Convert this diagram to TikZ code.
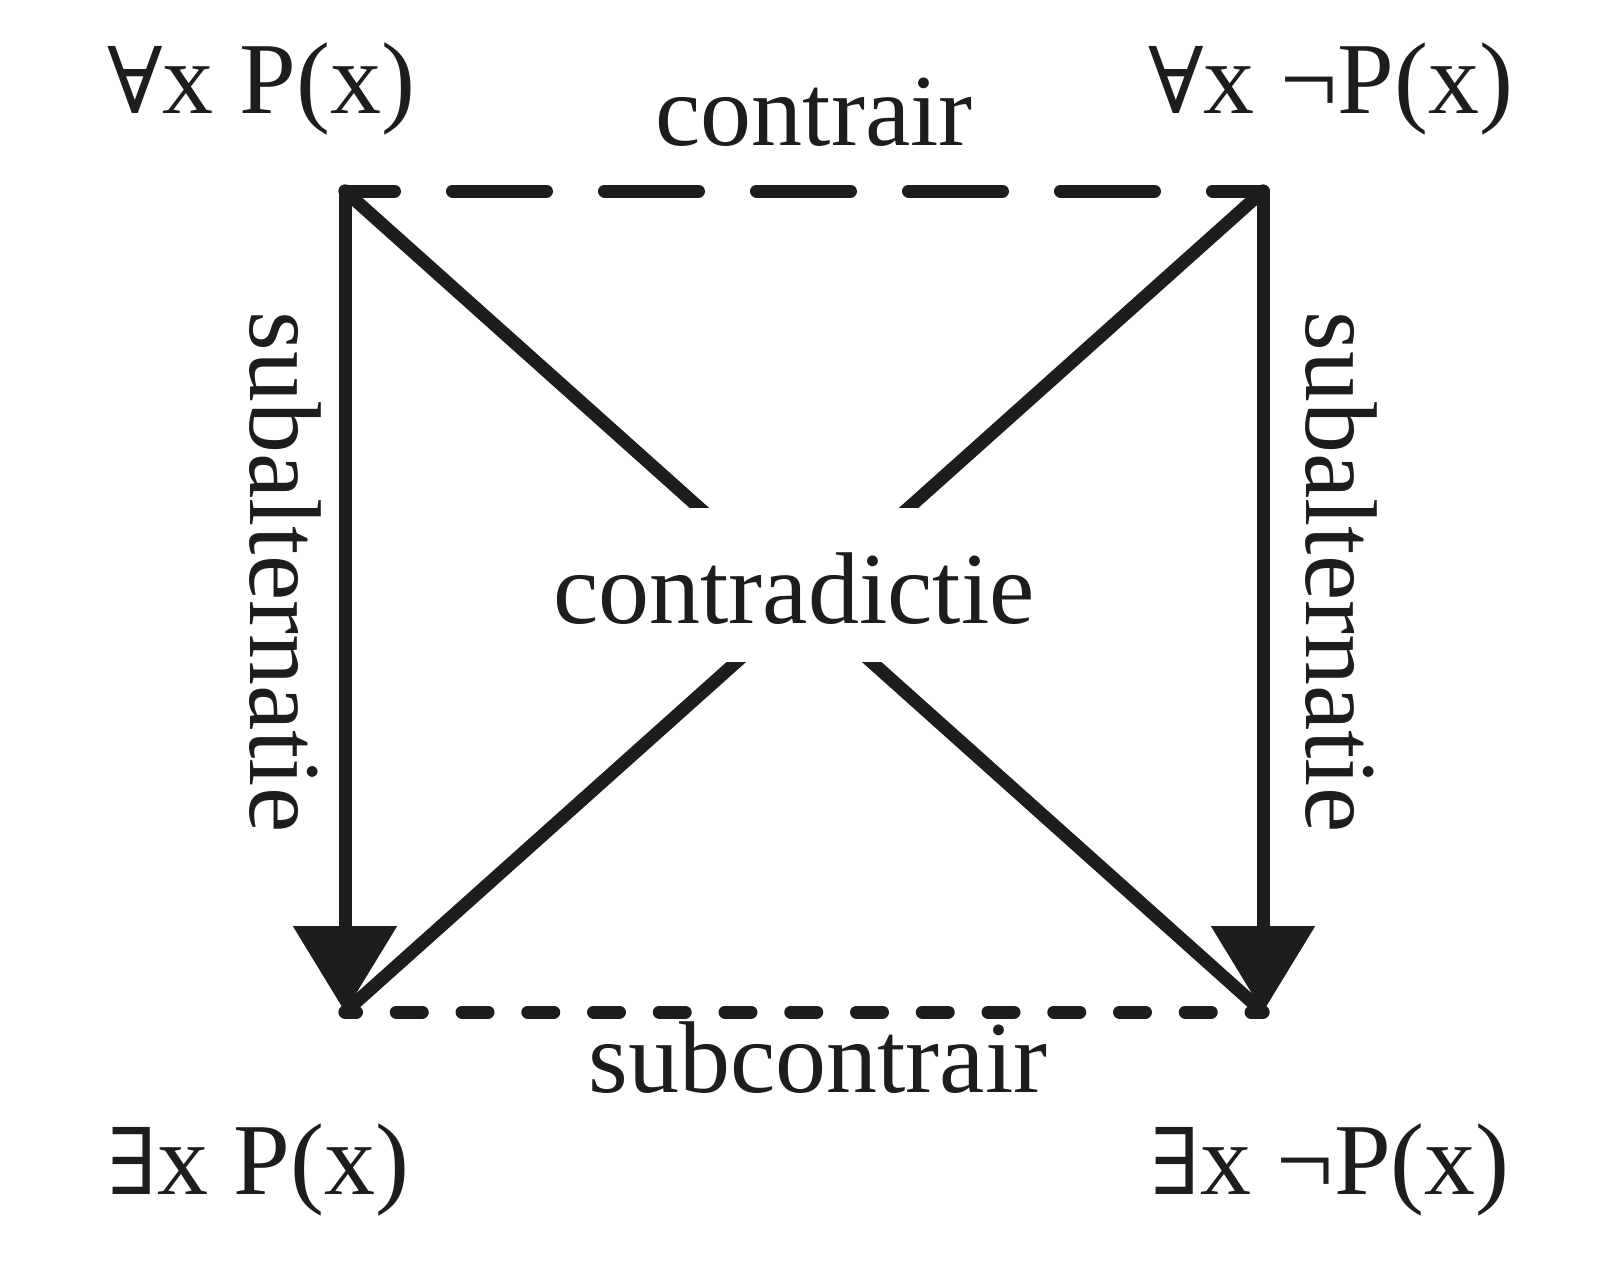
\documentclass[tikz,border=0pt]{standalone}
\usepackage{fontspec}
\setmainfont{Liberation Serif}
\newfontfamily\qfont{DejaVu Serif}
\usetikzlibrary{arrows.meta}
\definecolor{ink}{HTML}{1D1D1B}
\begin{document}
\begin{tikzpicture}[x=0.5pt,y=-0.5pt,
  lbl/.style={font=\fontsize{51pt}{61pt}\selectfont, inner sep=0pt, text=ink},
  edge/.style={line width=6.5pt, draw=ink, line cap=round},
  subalt/.style={edge, -{Triangle[width=50.5pt,length=43pt]}},
  contrary/.style={edge, dash pattern=on 47pt off 29pt, dash phase=22.25pt},
  subcontrary/.style={edge, dash pattern=on 13pt off 19.875pt, dash phase=7.25pt}]
\useasboundingbox (0,0) rectangle (1600,1268);
\coordinate (tl) at (345,191);
\coordinate (tr) at (1263,191);
\coordinate (bl) at (345,1012);
\coordinate (br) at (1263,1012);
% square
\draw[contrary] (tl) -- (tr);
\draw[subcontrary] (bl) -- (br);
\draw[subalt] (tl) -- (bl);
\draw[subalt] (tr) -- (br);
% diagonals
\draw[edge] (tl) -- (br);
\draw[edge] (tr) -- (bl);
% labels
\node[lbl, fill=white, text height=57.5pt, text depth=19.5pt, anchor=base] (contra) at (794,623) {contradictie};
\node[lbl, anchor=base] (contrair) at (814,146) {contrair};
\node[lbl, anchor=base] (subc) at (818,1092) {subcontrair};
\node[lbl, anchor=base west] (A) at (107,113) {{\qfont\fontsize{46pt}{61pt}\selectfont ∀}x P(x)};
\node[lbl, anchor=base west] (E) at (1148,113) {{\qfont\fontsize{46pt}{61pt}\selectfont ∀}x ¬P(x)};
\node[lbl, anchor=base west] (I) at (107,1194) {{\qfont\fontsize{46pt}{61pt}\selectfont ∃}x P(x)};
\node[lbl, anchor=base west] (O) at (1150,1194) {{\qfont\fontsize{46pt}{61pt}\selectfont ∃}x ¬P(x)};
\node[lbl, rotate=-90, anchor=base west] (sl) at (250,311) {subalternatie};
\node[lbl, rotate=-90, anchor=base west] (sr) at (1306,311) {subalternatie};
\end{tikzpicture}
\end{document}
